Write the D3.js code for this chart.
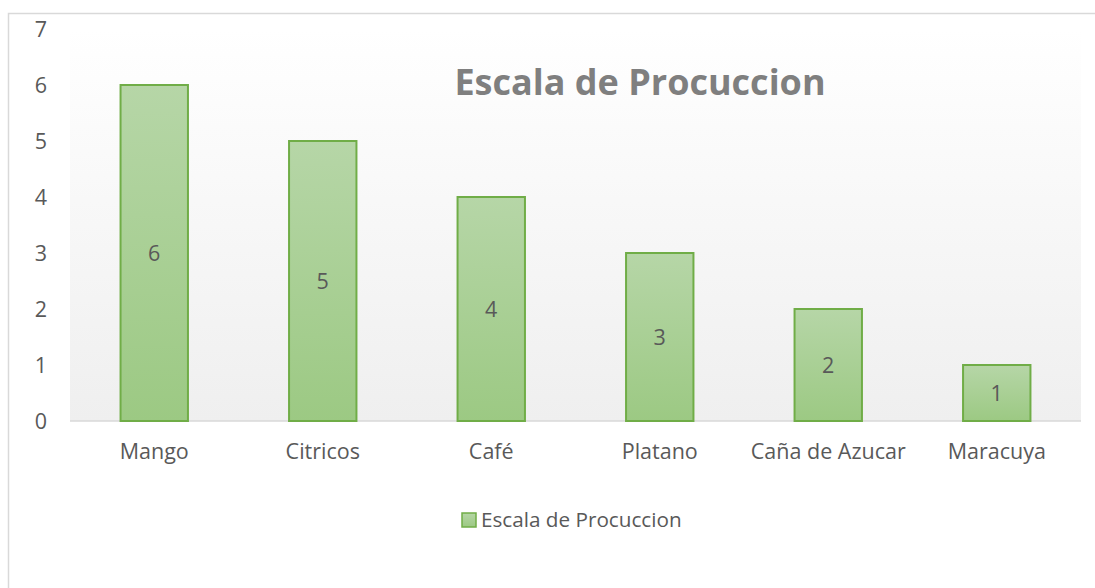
<!DOCTYPE html>
<html>
<head>
<meta charset="utf-8">
<script src="https://cdn.jsdelivr.net/npm/d3@7"></script>
<style>
  html, body { margin: 0; padding: 0; background: #fff; }
  svg { display: block; font-family: "Open Sans", sans-serif; }
</style>
</head>
<body>
<div id="chart"></div>
<script>
// --- Data ---
const categories = ["Mango", "Citricos", "Café", "Platano", "Caña de Azucar", "Maracuya"];
const values = [6, 5, 4, 3, 2, 1];
const yTicks = [0, 1, 2, 3, 4, 5, 6, 7];
const seriesName = "Escala de Procuccion";
const title = "Escala de Procuccion";

const width = 1095, height = 588;
const plot = { left: 70, right: 1081, top: 29, bottom: 421 };

const svg = d3.select('#chart').append('svg').attr('width', width).attr('height', height);
const defs = svg.append('defs');

// plot area gradient (white -> light gray)
const bg = defs.append('linearGradient').attr('id', 'bgGrad').attr('x1', 0).attr('y1', 0).attr('x2', 0).attr('y2', 1);
bg.append('stop').attr('offset', '0%').attr('stop-color', '#ffffff');
bg.append('stop').attr('offset', '100%').attr('stop-color', '#efefef');

// bar gradient
const bg2 = defs.append('linearGradient').attr('id', 'barGrad').attr('x1', 0).attr('y1', 0).attr('x2', 0).attr('y2', 1);
bg2.append('stop').attr('offset', '0%').attr('stop-color', '#b6d6a7');
bg2.append('stop').attr('offset', '100%').attr('stop-color', '#9cc983');

// chart border
svg.append('rect')
  .attr('x', 8.5).attr('y', 13.5)
  .attr('width', 1100).attr('height', 600)
  .attr('fill', 'none').attr('stroke', '#d9d9d9').attr('stroke-width', 1.5);

const x = d3.scaleBand().domain(categories).range([plot.left, plot.right]).paddingInner(0.6).paddingOuter(0.3);
const y = d3.scaleLinear().domain([0, 7]).range([plot.bottom, plot.top]);

svg.append('rect')
  .attr('x', plot.left).attr('y', plot.top)
  .attr('width', plot.right - plot.left).attr('height', plot.bottom - plot.top)
  .attr('fill', 'url(#bgGrad)');

// baseline
svg.append('line')
  .attr('x1', plot.left).attr('x2', plot.right)
  .attr('y1', y(0)).attr('y2', y(0))
  .attr('stroke', '#d9d9d9').attr('stroke-width', 1.5);

// y axis labels
const yAxis = d3.axisLeft(y).tickValues(yTicks).tickFormat(d3.format('d')).tickSize(0).tickPadding(0);
const gy = svg.append('g').attr('transform', `translate(${plot.left - 29},0)`).call(yAxis);
gy.select('.domain').remove();
gy.selectAll('text')
  .attr('font-family', '"Open Sans", sans-serif')
  .attr('font-size', 21.5).attr('fill', '#595959')
  .attr('text-anchor', 'middle').attr('dy', '0.36em');

// x axis labels
const xAxis = d3.axisBottom(x).tickSize(0).tickPadding(0);
const gx = svg.append('g').attr('transform', `translate(0,${y(0)})`).call(xAxis);
gx.select('.domain').remove();
gx.selectAll('text')
  .attr('font-family', '"Open Sans", sans-serif')
  .attr('font-size', 21.5).attr('fill', '#595959')
  .attr('dy', null).attr('y', 38);

// bars
const data = categories.map((c, i) => ({ c, v: values[i] }));
svg.selectAll('rect.bar')
  .data(data)
  .join('rect')
  .attr('class', 'bar')
  .attr('x', d => x(d.c))
  .attr('y', d => y(d.v))
  .attr('width', x.bandwidth())
  .attr('height', d => y(0) - y(d.v))
  .attr('fill', 'url(#barGrad)')
  .attr('stroke', '#70ad47')
  .attr('stroke-width', 2);

// value labels
svg.selectAll('text.val')
  .data(data)
  .join('text')
  .attr('class', 'val')
  .attr('x', d => x(d.c) + x.bandwidth() / 2)
  .attr('y', d => (y(d.v) + y(0)) / 2)
  .attr('dy', '0.36em')
  .attr('text-anchor', 'middle')
  .attr('font-size', 21.5)
  .attr('fill', '#595959')
  .text(d => d.v);

// title
svg.append('text')
  .attr('x', 640).attr('y', 95)
  .attr('text-anchor', 'middle')
  .attr('font-size', 36).attr('font-weight', 'bold')
  .attr('fill', '#7f7f7f')
  .text(title);

// legend
const lg = svg.append('g').attr('transform', 'translate(462,513)');
lg.append('rect').attr('width', 14).attr('height', 14)
  .attr('fill', 'url(#barGrad)').attr('stroke', '#70ad47').attr('stroke-width', 1.5);
lg.append('text').attr('x', 19).attr('y', 14)
  .attr('font-size', 20.7).attr('fill', '#595959')
  .text(seriesName);
</script>
</body>
</html>
